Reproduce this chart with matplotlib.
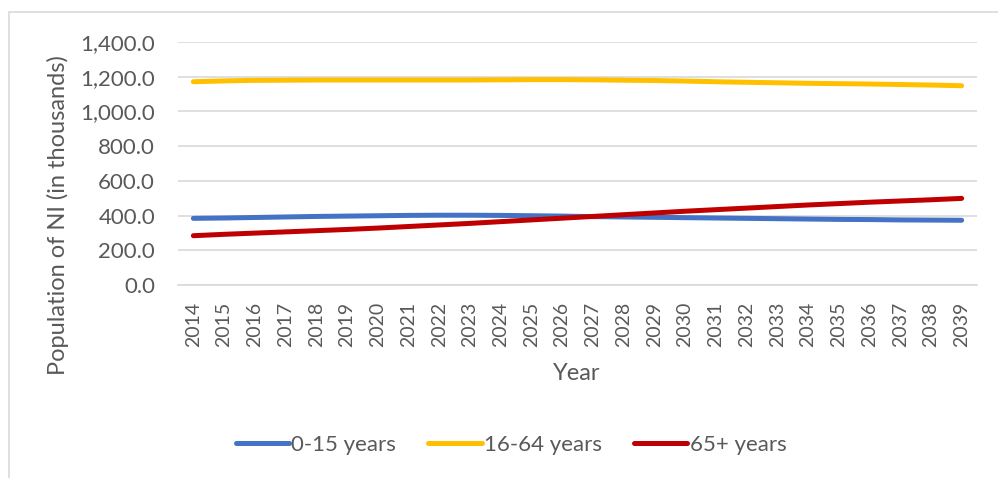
import matplotlib.pyplot as plt
from matplotlib.patches import Rectangle
from matplotlib.ticker import FuncFormatter

plt.rcParams['font.family'] = ['Lato', 'DejaVu Sans']

years = list(range(2014, 2040))
young = [384, 386, 389, 392, 395, 397, 399, 401, 402, 402, 401, 399, 397,
         394, 392, 390, 388, 386, 384, 382, 380, 378, 377, 375, 374, 373]
working = [1171, 1176, 1179, 1180, 1181, 1181, 1181, 1181, 1181, 1181, 1182, 1183, 1183,
           1182, 1180, 1178, 1175, 1171, 1168, 1165, 1162, 1160, 1158, 1155, 1152, 1148]
older = [284, 292, 299, 306, 313, 320, 328, 337, 346, 355, 365, 375, 385,
         395, 405, 415, 425, 434, 443, 452, 461, 469, 477, 484, 491, 499]

series = [("0-15 years", young, "#4472C4"),
          ("16-64 years", working, "#FFC000"),
          ("65+ years", older, "#C00000")]

txt = "#595959"
W, H = 998, 478
fig = plt.figure(figsize=(W / 100, H / 100), dpi=100)

# chart frame
fig.patches.append(Rectangle((9 / W, -0.05), 1.0, 1 - 12 / H + 0.05, transform=fig.transFigure,
                             fill=False, edgecolor="#D9D9D9", linewidth=1.2))

ax = fig.add_axes([178 / W, 1 - 285 / H, (977 - 178) / W, (285 - 42) / H])
x = list(range(len(years)))
for name, vals, col in series:
    ax.plot(x, vals, color=col, linewidth=3.6, solid_capstyle="round", label=name)

ax.set_xlim(-0.5, len(years) - 0.5)
ax.set_ylim(0, 1400)
ax.set_yticks(range(0, 1401, 200))
ax.yaxis.set_major_formatter(FuncFormatter(lambda v, p: f"{v:,.1f}"))
ax.set_xticks(x)
ax.set_xticklabels([str(y) for y in years], rotation=90)
ax.grid(axis="y", color="#D9D9D9", linewidth=1.2)
ax.set_axisbelow(True)
for s in ["top", "right", "left"]:
    ax.spines[s].set_visible(False)
ax.spines["bottom"].set_color("#D9D9D9")
ax.spines["bottom"].set_linewidth(1.2)
ax.tick_params(axis="both", length=0, colors=txt)
ax.tick_params(axis="y", labelsize=16, pad=16.5)
ax.tick_params(axis="x", labelsize=14, pad=12)

fig.text(58 / W, 1 - 215 / H, "Population of NI (in thousands)", rotation=90,
         ha="center", va="center", fontsize=17, color=txt)
fig.text(577 / W, 1 - 373 / H, "Year", ha="center", va="center", fontsize=17, color=txt)

leg = fig.legend(loc="center", bbox_to_anchor=(511 / W, 1 - 445 / H), ncol=3, frameon=False,
                 fontsize=16, handlelength=2.4, handletextpad=0.1, columnspacing=1.45,
                 labelcolor=txt)

fig.savefig("out.png", dpi=100)
